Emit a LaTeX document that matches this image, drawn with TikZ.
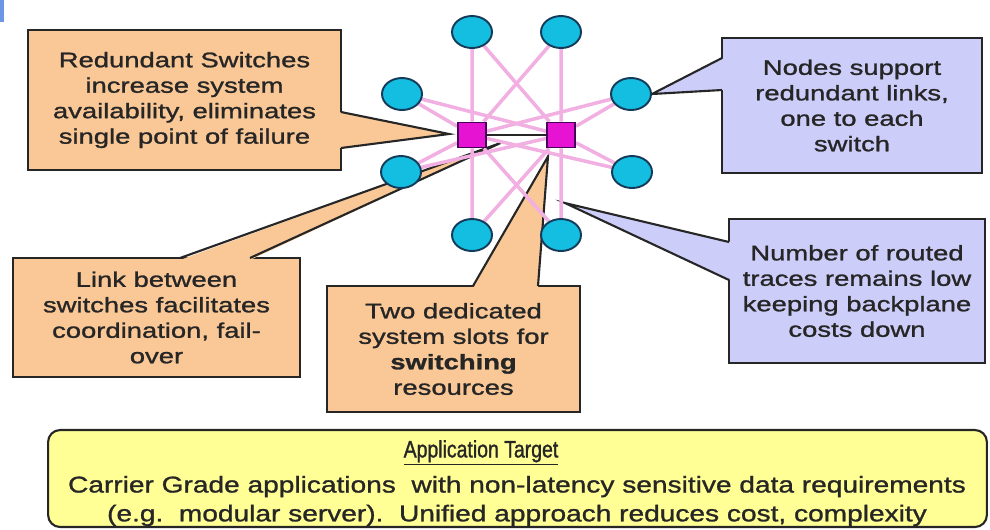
\documentclass[tikz,border=0pt]{standalone}
\usepackage{fontspec}
\setmainfont{Liberation Sans}
\newfontfamily\callfont[FakeStretch=1.3,FakeBold=1.2]{Liberation Sans}
\newfontfamily\appfont[FakeStretch=1.23,FakeBold=1.2]{Liberation Sans}
\newfontfamily\apptitlefont[FakeStretch=0.82,FakeBold=1.2]{Liberation Sans}
\usetikzlibrary{shapes.geometric,calc}

\definecolor{peach}{RGB}{250,200,150}
\definecolor{lavender}{RGB}{205,205,250}
\definecolor{lightyellow}{RGB}{255,255,150}
\definecolor{nodecyan}{RGB}{20,190,225}
\definecolor{nodeedge}{RGB}{20,60,90}
\definecolor{switchpink}{RGB}{230,20,210}
\definecolor{switchedge}{RGB}{70,0,90}
\definecolor{tracepink}{RGB}{242,175,225}
\definecolor{edgeblue}{RGB}{110,150,230}

\pgfdeclarelayer{callouts}
\pgfdeclarelayer{traces}
\pgfsetlayers{callouts,traces,main}

\begin{document}
\begin{tikzpicture}[
      x=0.02cm, y=-0.02cm,
      every node/.style={inner sep=0pt},
      note/.style={rectangle, draw=black!85, line width=1.2pt, align=center, text=black!85,
        font=\callfont\fontsize{12}{14.5}\selectfont},
      peachnote/.style={note, fill=peach},
      bluenote/.style={note, fill=lavender},
      pointer/.style={draw=black!85, line width=1.2pt, line join=miter},
      endpoint/.style={ellipse, draw=nodeedge, line width=1.1pt, fill=nodecyan,
        minimum width=0.8cm, minimum height=0.64cm},
      switch/.style={rectangle, draw=switchedge, line width=1.1pt, fill=switchpink,
        minimum width=0.56cm, minimum height=0.5cm},
      trace/.style={tracepink, line width=2pt}
      ]
      \useasboundingbox (0,0) rectangle (990,529);
      \fill[edgeblue] (0,0) rectangle (4,22);

      %switches and end nodes
      \node[switch] (sw1) at (472,135) {};
      \node[switch] (sw2) at (561,135) {};
      \foreach \n/\x/\y in {1/472/32, 2/561/32, 3/402/94, 4/631/94,
                            5/401/172, 6/632/172, 7/472/235, 8/561/235}
        \node[endpoint] (ep\n) at (\x,\y) {};

      %one trace from every node to each switch
      \begin{pgfonlayer}{traces}
        \foreach \n in {1,...,8}
          \draw[trace] (ep\n) -- (sw1) (ep\n) -- (sw2);
      \end{pgfonlayer}
      \draw[line width=1.2pt, black!85] (sw1) -- (sw2);

      %callout tips
      \coordinate (redtip) at ($(sw1.west)+(-8,-1)$);
      \coordinate (nodtip) at (ep4.east);
      \coordinate (linktip) at ($(sw1)!0.5!(sw2)+(-16,8)$);
      \coordinate (twotip) at ($(sw2.south)+(-13,8)$);
      \coordinate (numtip) at ($(ep8.north)+(4,-15)$);

      \begin{pgfonlayer}{callouts}
        \node[peachnote, minimum width=6.26cm, minimum height=2.8cm] (redbox) at (184.5,100)
          {Redundant Switches\\increase system\\availability, eliminates\\single point of failure};
        \node[bluenote, minimum width=5.2cm, minimum height=2.7cm] (nodbox) at (852,105.5)
          {Nodes support\\redundant links,\\one to each\\switch};
        \node[peachnote, minimum width=5.74cm, minimum height=2.38cm] (linkbox) at (156.5,317.5)
          {Link between\\switches facilitates\\coordination, fail-\\over};
        \node[peachnote, minimum width=5.06cm, minimum height=2.52cm] (twobox) at (453.5,349)
          {Two dedicated\\system slots for\\\textbf{switching}\\resources};
        \node[bluenote, minimum width=5.12cm, minimum height=2.88cm] (numbox) at (857,291)
          {Number of routed\\traces remains low\\keeping backplane\\costs down};

        %pointers
        \fill[peach] (339,112) -- (redtip) -- (339,148) -- cycle;
        \draw[pointer] (341,112) -- (redtip) -- (341,148);
        \fill[lavender] (724,58) -- (nodtip) -- (724,90) -- cycle;
        \draw[pointer] (722,58) -- (nodtip) -- (722,90);
        \fill[peach] (180,260) -- (linktip) -- (250,260) -- cycle;
        \draw[pointer] (180,258) -- (linktip) -- (250,258);
        \fill[peach] (473,288) -- (twotip) -- (538,288) -- cycle;
        \draw[pointer] (473,286) -- (twotip) -- (538,286);
        \fill[lavender] (731,242) -- (numtip) -- (731,280) -- cycle;
        \draw[pointer] (729,242) -- (numtip) -- (729,280);
      \end{pgfonlayer}

      %application target
      \node[draw=black!85, line width=1.2pt, fill=lightyellow, rounded corners=0.24cm,
        minimum width=18.78cm, minimum height=1.94cm] (appbox) at (517.5,478.5) {};
      \node[font=\apptitlefont\fontsize{13.5}{16}\selectfont, text=black!85] (apptitle) at (481,453)
        {\underline{Application Target}};
      \node[align=center, text=black!85, font=\appfont\fontsize{13}{16.4}\selectfont] (apptext) at (517,501)
        {Carrier Grade applications\ \ with non-latency sensitive data requirements\\
         (e.g.\ \ modular server).\ \ Unified approach reduces cost, complexity};
    \end{tikzpicture}
\end{document}
